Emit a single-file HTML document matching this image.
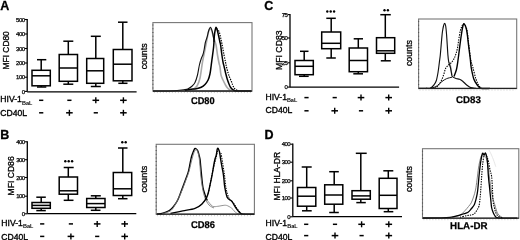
<!DOCTYPE html>
<html><head><meta charset="utf-8"><style>
html,body{margin:0;padding:0;background:#fff;}
svg{display:block;font-family:"Liberation Sans", sans-serif;will-change:transform;}
</style></head><body>
<svg width="520" height="240" viewBox="0 0 520 240">
<rect width="520" height="240" fill="#fff"/>
<text x="0.2" y="9.7" font-size="12.5" font-weight="bold" text-anchor="start" fill="#000" stroke="#000" stroke-width="0.3" >A</text>
<line x1="27.2" y1="18.9" x2="27.2" y2="91.8" stroke="#000" stroke-width="1.3" />
<line x1="24.7" y1="19.5" x2="27.2" y2="19.5" stroke="#000" stroke-width="1.1" />
<text x="24.599999999999998" y="21.6" font-size="6.0" font-weight="normal" text-anchor="end" fill="#000" stroke="#000" stroke-width="0.25" letter-spacing="-0.5">500</text>
<line x1="24.7" y1="34" x2="27.2" y2="34" stroke="#000" stroke-width="1.1" />
<text x="24.599999999999998" y="36.1" font-size="6.0" font-weight="normal" text-anchor="end" fill="#000" stroke="#000" stroke-width="0.25" letter-spacing="-0.5">400</text>
<line x1="24.7" y1="48.5" x2="27.2" y2="48.5" stroke="#000" stroke-width="1.1" />
<text x="24.599999999999998" y="50.6" font-size="6.0" font-weight="normal" text-anchor="end" fill="#000" stroke="#000" stroke-width="0.25" letter-spacing="-0.5">300</text>
<line x1="24.7" y1="63" x2="27.2" y2="63" stroke="#000" stroke-width="1.1" />
<text x="24.599999999999998" y="65.1" font-size="6.0" font-weight="normal" text-anchor="end" fill="#000" stroke="#000" stroke-width="0.25" letter-spacing="-0.5">200</text>
<line x1="24.7" y1="77.2" x2="27.2" y2="77.2" stroke="#000" stroke-width="1.1" />
<text x="24.599999999999998" y="79.3" font-size="6.0" font-weight="normal" text-anchor="end" fill="#000" stroke="#000" stroke-width="0.25" letter-spacing="-0.5">100</text>
<line x1="24.7" y1="91.4" x2="27.2" y2="91.4" stroke="#000" stroke-width="1.1" />
<text x="24.599999999999998" y="93.5" font-size="6.0" font-weight="normal" text-anchor="end" fill="#000" stroke="#000" stroke-width="0.25" letter-spacing="-0.5">0</text>
<line x1="27.2" y1="91.8" x2="136.6" y2="91.8" stroke="#000" stroke-width="1.3" />
<text transform="translate(8.9,50.3) rotate(-90)" font-size="8.4" font-weight="normal" text-anchor="middle" fill="#000" stroke="#000" stroke-width="0.3">MFI CD80</text>
<line x1="41.2" y1="59.7" x2="41.2" y2="70.3" stroke="#000" stroke-width="1.5" />
<line x1="37" y1="59.7" x2="46.3" y2="59.7" stroke="#000" stroke-width="1.5" />
<line x1="41.2" y1="85.8" x2="41.2" y2="87.0" stroke="#000" stroke-width="1.5" />
<line x1="37" y1="87.0" x2="46.3" y2="87.0" stroke="#000" stroke-width="1.5" />
<rect x="32" y="70.3" width="18.299999999999997" height="15.5" fill="none" stroke="#000" stroke-width="1.5"/>
<line x1="32" y1="75.8" x2="50.3" y2="75.8" stroke="#000" stroke-width="1.5" />
<line x1="68.3" y1="41.2" x2="68.3" y2="54.5" stroke="#000" stroke-width="1.5" />
<line x1="63.3" y1="41.2" x2="73.3" y2="41.2" stroke="#000" stroke-width="1.5" />
<line x1="68.3" y1="81.3" x2="68.3" y2="84.2" stroke="#000" stroke-width="1.5" />
<line x1="63.3" y1="84.2" x2="73.3" y2="84.2" stroke="#000" stroke-width="1.5" />
<rect x="59.2" y="54.5" width="18.299999999999997" height="26.799999999999997" fill="none" stroke="#000" stroke-width="1.5"/>
<line x1="59.2" y1="68" x2="77.5" y2="68" stroke="#000" stroke-width="1.5" />
<line x1="95.8" y1="36.3" x2="95.8" y2="58.5" stroke="#000" stroke-width="1.5" />
<line x1="90.8" y1="36.3" x2="100.8" y2="36.3" stroke="#000" stroke-width="1.5" />
<line x1="95.8" y1="83.3" x2="95.8" y2="86.5" stroke="#000" stroke-width="1.5" />
<line x1="90.8" y1="86.5" x2="100.8" y2="86.5" stroke="#000" stroke-width="1.5" />
<rect x="86.7" y="58.5" width="17.0" height="24.799999999999997" fill="none" stroke="#000" stroke-width="1.5"/>
<line x1="86.7" y1="70.8" x2="103.7" y2="70.8" stroke="#000" stroke-width="1.5" />
<line x1="122.8" y1="22.2" x2="122.8" y2="49.5" stroke="#000" stroke-width="1.5" />
<line x1="118" y1="22.2" x2="127.5" y2="22.2" stroke="#000" stroke-width="1.5" />
<line x1="122.8" y1="80.8" x2="122.8" y2="83.3" stroke="#000" stroke-width="1.5" />
<line x1="118.3" y1="83.3" x2="127.5" y2="83.3" stroke="#000" stroke-width="1.5" />
<rect x="113.3" y="49.5" width="18.700000000000003" height="31.299999999999997" fill="none" stroke="#000" stroke-width="1.5"/>
<line x1="113.3" y1="64.2" x2="132" y2="64.2" stroke="#000" stroke-width="1.5" />
<text x="0.3" y="101.8" font-size="8.6" font-weight="normal" text-anchor="start" fill="#000" stroke="#000" stroke-width="0.35" >HIV-1</text>
<text x="22.0" y="104.6" font-size="5.5" font-weight="bold" text-anchor="start" fill="#000"  >BaL</text>
<text x="0.3" y="116.0" font-size="8.6" font-weight="normal" text-anchor="start" fill="#000" stroke="#000" stroke-width="0.35" >CD40L</text>
<line x1="39.1" y1="100.3" x2="43.300000000000004" y2="100.3" stroke="#000" stroke-width="1.5" />
<line x1="67.30000000000001" y1="100.3" x2="71.5" y2="100.3" stroke="#000" stroke-width="1.5" />
<line x1="92.5" y1="100.3" x2="99.1" y2="100.3" stroke="#000" stroke-width="1.5" />
<line x1="95.8" y1="97.3" x2="95.8" y2="103.3" stroke="#000" stroke-width="1.4" />
<line x1="120.10000000000001" y1="100.3" x2="126.7" y2="100.3" stroke="#000" stroke-width="1.5" />
<line x1="123.4" y1="97.3" x2="123.4" y2="103.3" stroke="#000" stroke-width="1.4" />
<line x1="39.1" y1="112.8" x2="43.300000000000004" y2="112.8" stroke="#000" stroke-width="1.5" />
<line x1="66.10000000000001" y1="112.8" x2="72.7" y2="112.8" stroke="#000" stroke-width="1.5" />
<line x1="69.4" y1="109.8" x2="69.4" y2="115.8" stroke="#000" stroke-width="1.4" />
<line x1="93.7" y1="112.8" x2="97.89999999999999" y2="112.8" stroke="#000" stroke-width="1.5" />
<line x1="120.10000000000001" y1="112.8" x2="126.7" y2="112.8" stroke="#000" stroke-width="1.5" />
<line x1="123.4" y1="109.8" x2="123.4" y2="115.8" stroke="#000" stroke-width="1.4" />
<text x="0.3" y="138.8" font-size="12.5" font-weight="bold" text-anchor="start" fill="#000" stroke="#000" stroke-width="0.3" >B</text>
<line x1="27.3" y1="141.20000000000002" x2="27.3" y2="213.6" stroke="#000" stroke-width="1.3" />
<line x1="24.8" y1="141.8" x2="27.3" y2="141.8" stroke="#000" stroke-width="1.1" />
<text x="24.7" y="143.9" font-size="6.0" font-weight="normal" text-anchor="end" fill="#000" stroke="#000" stroke-width="0.25" letter-spacing="-0.5">400</text>
<line x1="24.8" y1="159.7" x2="27.3" y2="159.7" stroke="#000" stroke-width="1.1" />
<text x="24.7" y="161.79999999999998" font-size="6.0" font-weight="normal" text-anchor="end" fill="#000" stroke="#000" stroke-width="0.25" letter-spacing="-0.5">300</text>
<line x1="24.8" y1="177.5" x2="27.3" y2="177.5" stroke="#000" stroke-width="1.1" />
<text x="24.7" y="179.6" font-size="6.0" font-weight="normal" text-anchor="end" fill="#000" stroke="#000" stroke-width="0.25" letter-spacing="-0.5">200</text>
<line x1="24.8" y1="196.2" x2="27.3" y2="196.2" stroke="#000" stroke-width="1.1" />
<text x="24.7" y="198.29999999999998" font-size="6.0" font-weight="normal" text-anchor="end" fill="#000" stroke="#000" stroke-width="0.25" letter-spacing="-0.5">100</text>
<line x1="24.8" y1="213.8" x2="27.3" y2="213.8" stroke="#000" stroke-width="1.1" />
<text x="24.7" y="215.9" font-size="6.0" font-weight="normal" text-anchor="end" fill="#000" stroke="#000" stroke-width="0.25" letter-spacing="-0.5">0</text>
<line x1="27.3" y1="213.6" x2="136.3" y2="213.6" stroke="#000" stroke-width="1.3" />
<text transform="translate(13.9,175.9) rotate(-90)" font-size="8.6" font-weight="normal" text-anchor="middle" fill="#000" stroke="#000" stroke-width="0.3">MFI CD86</text>
<line x1="41.2" y1="197.2" x2="41.2" y2="202.5" stroke="#000" stroke-width="1.5" />
<line x1="36.3" y1="197.2" x2="45.8" y2="197.2" stroke="#000" stroke-width="1.5" />
<line x1="41.2" y1="208.3" x2="41.2" y2="210.6" stroke="#000" stroke-width="1.5" />
<line x1="36.3" y1="210.6" x2="45.8" y2="210.6" stroke="#000" stroke-width="1.5" />
<rect x="32" y="202.5" width="18.299999999999997" height="5.800000000000011" fill="none" stroke="#000" stroke-width="1.5"/>
<line x1="32" y1="205.4" x2="50.3" y2="205.4" stroke="#000" stroke-width="1.5" />
<line x1="68.3" y1="167.5" x2="68.3" y2="177" stroke="#000" stroke-width="1.5" />
<line x1="63.7" y1="167.5" x2="73.7" y2="167.5" stroke="#000" stroke-width="1.5" />
<line x1="68.3" y1="194.2" x2="68.3" y2="200.3" stroke="#000" stroke-width="1.5" />
<line x1="63.7" y1="200.3" x2="73.5" y2="200.3" stroke="#000" stroke-width="1.5" />
<rect x="59.2" y="177" width="18.299999999999997" height="17.19999999999999" fill="none" stroke="#000" stroke-width="1.5"/>
<line x1="59.2" y1="190.8" x2="77.5" y2="190.8" stroke="#000" stroke-width="1.5" />
<line x1="95.8" y1="195.8" x2="95.8" y2="198.5" stroke="#000" stroke-width="1.5" />
<line x1="90.8" y1="195.8" x2="100.8" y2="195.8" stroke="#000" stroke-width="1.5" />
<line x1="95.8" y1="207.5" x2="95.8" y2="210.3" stroke="#000" stroke-width="1.5" />
<line x1="90.8" y1="210.3" x2="100.5" y2="210.3" stroke="#000" stroke-width="1.5" />
<rect x="86.7" y="198.5" width="18.299999999999997" height="9.0" fill="none" stroke="#000" stroke-width="1.5"/>
<line x1="86.7" y1="203.6" x2="105" y2="203.6" stroke="#000" stroke-width="1.5" />
<line x1="122.8" y1="148" x2="122.8" y2="172.5" stroke="#000" stroke-width="1.5" />
<line x1="118" y1="148" x2="127.5" y2="148" stroke="#000" stroke-width="1.5" />
<line x1="122.8" y1="195.5" x2="122.8" y2="198.7" stroke="#000" stroke-width="1.5" />
<line x1="118" y1="198.7" x2="127.5" y2="198.7" stroke="#000" stroke-width="1.5" />
<rect x="113.3" y="172.5" width="18.39999999999999" height="23.0" fill="none" stroke="#000" stroke-width="1.5"/>
<line x1="113.3" y1="188.8" x2="131.7" y2="188.8" stroke="#000" stroke-width="1.5" />
<circle cx="65.30" cy="161.3" r="1.2" fill="#000"/>
<circle cx="68.70" cy="161.3" r="1.2" fill="#000"/>
<circle cx="72.10" cy="161.3" r="1.2" fill="#000"/>
<circle cx="122.30" cy="142.3" r="1.2" fill="#000"/>
<circle cx="125.70" cy="142.3" r="1.2" fill="#000"/>
<text x="1.3" y="225.9" font-size="8.6" font-weight="normal" text-anchor="start" fill="#000" stroke="#000" stroke-width="0.35" >HIV-1</text>
<text x="23.0" y="227.7" font-size="5.5" font-weight="bold" text-anchor="start" fill="#000"  >BaL</text>
<text x="1.3" y="239.6" font-size="8.6" font-weight="normal" text-anchor="start" fill="#000" stroke="#000" stroke-width="0.35" >CD40L</text>
<line x1="40.1" y1="223.9" x2="44.300000000000004" y2="223.9" stroke="#000" stroke-width="1.5" />
<line x1="68.80000000000001" y1="223.9" x2="73.0" y2="223.9" stroke="#000" stroke-width="1.5" />
<line x1="93.9" y1="223.9" x2="100.5" y2="223.9" stroke="#000" stroke-width="1.5" />
<line x1="97.2" y1="220.9" x2="97.2" y2="226.9" stroke="#000" stroke-width="1.4" />
<line x1="121.4" y1="223.9" x2="128.0" y2="223.9" stroke="#000" stroke-width="1.5" />
<line x1="124.7" y1="220.9" x2="124.7" y2="226.9" stroke="#000" stroke-width="1.4" />
<line x1="40.1" y1="236.4" x2="44.300000000000004" y2="236.4" stroke="#000" stroke-width="1.5" />
<line x1="67.60000000000001" y1="236.4" x2="74.2" y2="236.4" stroke="#000" stroke-width="1.5" />
<line x1="70.9" y1="233.4" x2="70.9" y2="239.4" stroke="#000" stroke-width="1.4" />
<line x1="95.10000000000001" y1="236.4" x2="99.3" y2="236.4" stroke="#000" stroke-width="1.5" />
<line x1="121.4" y1="236.4" x2="128.0" y2="236.4" stroke="#000" stroke-width="1.5" />
<line x1="124.7" y1="233.4" x2="124.7" y2="239.4" stroke="#000" stroke-width="1.4" />
<text x="264.2" y="9.9" font-size="12.5" font-weight="bold" text-anchor="start" fill="#000" stroke="#000" stroke-width="0.3" >C</text>
<line x1="290" y1="14.0" x2="290" y2="87.2" stroke="#000" stroke-width="1.3" />
<line x1="287.5" y1="14.6" x2="290" y2="14.6" stroke="#000" stroke-width="1.1" />
<text x="287.4" y="16.7" font-size="6.0" font-weight="normal" text-anchor="end" fill="#000" stroke="#000" stroke-width="0.25" letter-spacing="-0.5">75</text>
<line x1="287.5" y1="38" x2="290" y2="38" stroke="#000" stroke-width="1.1" />
<text x="287.4" y="40.1" font-size="6.0" font-weight="normal" text-anchor="end" fill="#000" stroke="#000" stroke-width="0.25" letter-spacing="-0.5">50</text>
<line x1="287.5" y1="62.8" x2="290" y2="62.8" stroke="#000" stroke-width="1.1" />
<text x="287.4" y="64.89999999999999" font-size="6.0" font-weight="normal" text-anchor="end" fill="#000" stroke="#000" stroke-width="0.25" letter-spacing="-0.5">25</text>
<line x1="287.5" y1="87.1" x2="290" y2="87.1" stroke="#000" stroke-width="1.1" />
<text x="287.4" y="89.19999999999999" font-size="6.0" font-weight="normal" text-anchor="end" fill="#000" stroke="#000" stroke-width="0.25" letter-spacing="-0.5">0</text>
<line x1="290" y1="87.2" x2="399.1" y2="87.2" stroke="#000" stroke-width="1.3" />
<text transform="translate(281.5,50.2) rotate(-90)" font-size="8.7" font-weight="normal" text-anchor="middle" fill="#000" stroke="#000" stroke-width="0.3">MFI CD83</text>
<line x1="304.2" y1="51.3" x2="304.2" y2="60.5" stroke="#000" stroke-width="1.5" />
<line x1="300" y1="51.3" x2="308.5" y2="51.3" stroke="#000" stroke-width="1.5" />
<line x1="304.2" y1="74.7" x2="304.2" y2="76.3" stroke="#000" stroke-width="1.5" />
<line x1="299" y1="76.3" x2="308.7" y2="76.3" stroke="#000" stroke-width="1.5" />
<rect x="295" y="60.5" width="18.30000000000001" height="14.200000000000003" fill="none" stroke="#000" stroke-width="1.5"/>
<line x1="295" y1="66.3" x2="313.3" y2="66.3" stroke="#000" stroke-width="1.5" />
<line x1="331.2" y1="18.3" x2="331.2" y2="32" stroke="#000" stroke-width="1.5" />
<line x1="326.3" y1="18.3" x2="335.8" y2="18.3" stroke="#000" stroke-width="1.5" />
<line x1="331.2" y1="48.7" x2="331.2" y2="58" stroke="#000" stroke-width="1.5" />
<line x1="326.3" y1="58" x2="335.8" y2="58" stroke="#000" stroke-width="1.5" />
<rect x="321.7" y="32" width="19.0" height="16.700000000000003" fill="none" stroke="#000" stroke-width="1.5"/>
<line x1="321.7" y1="43.3" x2="340.7" y2="43.3" stroke="#000" stroke-width="1.5" />
<line x1="358.3" y1="38.8" x2="358.3" y2="48" stroke="#000" stroke-width="1.5" />
<line x1="353.7" y1="38.8" x2="363" y2="38.8" stroke="#000" stroke-width="1.5" />
<line x1="358.3" y1="71.7" x2="358.3" y2="73.8" stroke="#000" stroke-width="1.5" />
<line x1="353.3" y1="73.8" x2="363" y2="73.8" stroke="#000" stroke-width="1.5" />
<rect x="349.2" y="48" width="18.30000000000001" height="23.700000000000003" fill="none" stroke="#000" stroke-width="1.5"/>
<line x1="349.2" y1="60.5" x2="367.5" y2="60.5" stroke="#000" stroke-width="1.5" />
<line x1="385.3" y1="14.7" x2="385.3" y2="37.7" stroke="#000" stroke-width="1.5" />
<line x1="380.3" y1="14.7" x2="390.8" y2="14.7" stroke="#000" stroke-width="1.5" />
<line x1="385.3" y1="53.3" x2="385.3" y2="60.8" stroke="#000" stroke-width="1.5" />
<line x1="380.8" y1="60.8" x2="390.8" y2="60.8" stroke="#000" stroke-width="1.5" />
<rect x="376.5" y="37.7" width="18.19999999999999" height="15.599999999999994" fill="none" stroke="#000" stroke-width="1.5"/>
<line x1="376.5" y1="50.8" x2="394.7" y2="50.8" stroke="#000" stroke-width="1.5" />
<circle cx="327.30" cy="11.5" r="1.2" fill="#000"/>
<circle cx="330.70" cy="11.5" r="1.2" fill="#000"/>
<circle cx="334.10" cy="11.5" r="1.2" fill="#000"/>
<circle cx="384.50" cy="10.3" r="1.2" fill="#000"/>
<circle cx="387.90" cy="10.3" r="1.2" fill="#000"/>
<text x="265.5" y="99.7" font-size="8.6" font-weight="normal" text-anchor="start" fill="#000" stroke="#000" stroke-width="0.35" >HIV-1</text>
<text x="286.9" y="101.8" font-size="5.5" font-weight="bold" text-anchor="start" fill="#000"  >BaL</text>
<text x="265.5" y="113.3" font-size="8.6" font-weight="normal" text-anchor="start" fill="#000" stroke="#000" stroke-width="0.35" >CD40L</text>
<line x1="304.4" y1="97.6" x2="308.6" y2="97.6" stroke="#000" stroke-width="1.5" />
<line x1="332.59999999999997" y1="97.6" x2="336.8" y2="97.6" stroke="#000" stroke-width="1.5" />
<line x1="357.7" y1="97.6" x2="364.3" y2="97.6" stroke="#000" stroke-width="1.5" />
<line x1="361" y1="94.6" x2="361" y2="100.6" stroke="#000" stroke-width="1.4" />
<line x1="385.4" y1="97.6" x2="392.0" y2="97.6" stroke="#000" stroke-width="1.5" />
<line x1="388.7" y1="94.6" x2="388.7" y2="100.6" stroke="#000" stroke-width="1.4" />
<line x1="304.4" y1="110.8" x2="308.6" y2="110.8" stroke="#000" stroke-width="1.5" />
<line x1="331.4" y1="110.8" x2="338.0" y2="110.8" stroke="#000" stroke-width="1.5" />
<line x1="334.7" y1="107.8" x2="334.7" y2="113.8" stroke="#000" stroke-width="1.4" />
<line x1="358.9" y1="110.8" x2="363.1" y2="110.8" stroke="#000" stroke-width="1.5" />
<line x1="385.4" y1="110.8" x2="392.0" y2="110.8" stroke="#000" stroke-width="1.5" />
<line x1="388.7" y1="107.8" x2="388.7" y2="113.8" stroke="#000" stroke-width="1.4" />
<text x="264.4" y="138.8" font-size="12.5" font-weight="bold" text-anchor="start" fill="#000" stroke="#000" stroke-width="0.3" >D</text>
<line x1="292.8" y1="143.6" x2="292.8" y2="216.7" stroke="#000" stroke-width="1.3" />
<line x1="290.3" y1="144.2" x2="292.8" y2="144.2" stroke="#000" stroke-width="1.1" />
<text x="290.2" y="146.29999999999998" font-size="6.0" font-weight="normal" text-anchor="end" fill="#000" stroke="#000" stroke-width="0.25" letter-spacing="-0.5">400</text>
<line x1="290.3" y1="162.2" x2="292.8" y2="162.2" stroke="#000" stroke-width="1.1" />
<text x="290.2" y="164.29999999999998" font-size="6.0" font-weight="normal" text-anchor="end" fill="#000" stroke="#000" stroke-width="0.25" letter-spacing="-0.5">300</text>
<line x1="290.3" y1="180.8" x2="292.8" y2="180.8" stroke="#000" stroke-width="1.1" />
<text x="290.2" y="182.9" font-size="6.0" font-weight="normal" text-anchor="end" fill="#000" stroke="#000" stroke-width="0.25" letter-spacing="-0.5">200</text>
<line x1="290.3" y1="198" x2="292.8" y2="198" stroke="#000" stroke-width="1.1" />
<text x="290.2" y="200.1" font-size="6.0" font-weight="normal" text-anchor="end" fill="#000" stroke="#000" stroke-width="0.25" letter-spacing="-0.5">100</text>
<line x1="290.3" y1="216.8" x2="292.8" y2="216.8" stroke="#000" stroke-width="1.1" />
<text x="290.2" y="218.9" font-size="6.0" font-weight="normal" text-anchor="end" fill="#000" stroke="#000" stroke-width="0.25" letter-spacing="-0.5">0</text>
<line x1="292.8" y1="216.7" x2="402" y2="216.7" stroke="#000" stroke-width="1.3" />
<text transform="translate(280.1,176.3) rotate(-90)" font-size="8.5" font-weight="normal" text-anchor="middle" fill="#000" stroke="#000" stroke-width="0.3">MFI HLA-DR</text>
<line x1="306.7" y1="167" x2="306.7" y2="187.5" stroke="#000" stroke-width="1.5" />
<line x1="301.7" y1="167" x2="311.7" y2="167" stroke="#000" stroke-width="1.5" />
<line x1="306.7" y1="206.2" x2="306.7" y2="210.8" stroke="#000" stroke-width="1.5" />
<line x1="302" y1="210.8" x2="311.7" y2="210.8" stroke="#000" stroke-width="1.5" />
<rect x="297.5" y="187.5" width="18.30000000000001" height="18.69999999999999" fill="none" stroke="#000" stroke-width="1.5"/>
<line x1="297.5" y1="196.2" x2="315.8" y2="196.2" stroke="#000" stroke-width="1.5" />
<line x1="334.2" y1="171.7" x2="334.2" y2="184.8" stroke="#000" stroke-width="1.5" />
<line x1="329.2" y1="171.7" x2="338.8" y2="171.7" stroke="#000" stroke-width="1.5" />
<line x1="334.2" y1="204.2" x2="334.2" y2="212.5" stroke="#000" stroke-width="1.5" />
<line x1="329.2" y1="212.5" x2="338.8" y2="212.5" stroke="#000" stroke-width="1.5" />
<rect x="324.7" y="184.8" width="18.100000000000023" height="19.399999999999977" fill="none" stroke="#000" stroke-width="1.5"/>
<line x1="324.7" y1="195" x2="342.8" y2="195" stroke="#000" stroke-width="1.5" />
<line x1="360.8" y1="153.3" x2="360.8" y2="190.7" stroke="#000" stroke-width="1.5" />
<line x1="355.8" y1="153.3" x2="366.7" y2="153.3" stroke="#000" stroke-width="1.5" />
<line x1="360.8" y1="199.2" x2="360.8" y2="202.6" stroke="#000" stroke-width="1.5" />
<line x1="356.3" y1="202.6" x2="365.8" y2="202.6" stroke="#000" stroke-width="1.5" />
<rect x="352" y="190.7" width="18.30000000000001" height="8.5" fill="none" stroke="#000" stroke-width="1.5"/>
<line x1="352" y1="195.9" x2="370.3" y2="195.9" stroke="#000" stroke-width="1.5" />
<line x1="388.3" y1="170.8" x2="388.3" y2="178.3" stroke="#000" stroke-width="1.5" />
<line x1="383.3" y1="170.8" x2="393.3" y2="170.8" stroke="#000" stroke-width="1.5" />
<line x1="388.3" y1="208.5" x2="388.3" y2="211.7" stroke="#000" stroke-width="1.5" />
<line x1="383.7" y1="211.7" x2="393.3" y2="211.7" stroke="#000" stroke-width="1.5" />
<rect x="379.2" y="178.3" width="17.80000000000001" height="30.19999999999999" fill="none" stroke="#000" stroke-width="1.5"/>
<line x1="379.2" y1="195.3" x2="397" y2="195.3" stroke="#000" stroke-width="1.5" />
<text x="265.6" y="225.6" font-size="8.6" font-weight="normal" text-anchor="start" fill="#000" stroke="#000" stroke-width="0.35" >HIV-1</text>
<text x="287.2" y="227.6" font-size="5.5" font-weight="bold" text-anchor="start" fill="#000"  >BaL</text>
<text x="265.6" y="239.6" font-size="8.6" font-weight="normal" text-anchor="start" fill="#000" stroke="#000" stroke-width="0.35" >CD40L</text>
<line x1="304.09999999999997" y1="224.3" x2="308.3" y2="224.3" stroke="#000" stroke-width="1.5" />
<line x1="332.9" y1="224.3" x2="337.1" y2="224.3" stroke="#000" stroke-width="1.5" />
<line x1="358.3" y1="224.3" x2="364.90000000000003" y2="224.3" stroke="#000" stroke-width="1.5" />
<line x1="361.6" y1="221.3" x2="361.6" y2="227.3" stroke="#000" stroke-width="1.4" />
<line x1="385.5" y1="224.3" x2="392.1" y2="224.3" stroke="#000" stroke-width="1.5" />
<line x1="388.8" y1="221.3" x2="388.8" y2="227.3" stroke="#000" stroke-width="1.4" />
<line x1="304.09999999999997" y1="235.6" x2="308.3" y2="235.6" stroke="#000" stroke-width="1.5" />
<line x1="331.7" y1="235.6" x2="338.3" y2="235.6" stroke="#000" stroke-width="1.5" />
<line x1="335" y1="232.6" x2="335" y2="238.6" stroke="#000" stroke-width="1.4" />
<line x1="359.5" y1="235.6" x2="363.70000000000005" y2="235.6" stroke="#000" stroke-width="1.5" />
<line x1="385.5" y1="235.6" x2="392.1" y2="235.6" stroke="#000" stroke-width="1.5" />
<line x1="388.8" y1="232.6" x2="388.8" y2="238.6" stroke="#000" stroke-width="1.4" />
<rect x="152.9" y="22.6" width="99.1" height="68.6" fill="none" stroke="#777" stroke-width="1.1"/>
<line x1="152.9" y1="24.6" x2="152.9" y2="90.2" stroke="#555" stroke-width="1.1" stroke-dasharray="1,2.7"/>
<line x1="153.9" y1="92.60000000000001" x2="251.0" y2="92.60000000000001" stroke="#bbb" stroke-width="1.0" stroke-dasharray="0.8,2.2"/>
<text transform="translate(146.6,56.4) rotate(-90)" font-size="8.8" font-weight="normal" text-anchor="middle" fill="#000" stroke="#000" stroke-width="0.3">counts</text>
<text x="202.85" y="104.2" font-size="9.8" font-weight="bold" text-anchor="middle" fill="#000" stroke="#000" stroke-width="0.25" textLength="23.6" lengthAdjust="spacingAndGlyphs" text-rendering="geometricPrecision">CD80</text>
<rect x="156.2" y="144.3" width="98.20000000000002" height="70.0" fill="none" stroke="#777" stroke-width="1.1"/>
<line x1="156.2" y1="146.3" x2="156.2" y2="213.3" stroke="#555" stroke-width="1.1" stroke-dasharray="1,2.7"/>
<line x1="157.2" y1="215.70000000000002" x2="253.4" y2="215.70000000000002" stroke="#bbb" stroke-width="1.0" stroke-dasharray="0.8,2.2"/>
<text transform="translate(147.1,179.1) rotate(-90)" font-size="9.1" font-weight="normal" text-anchor="middle" fill="#000" stroke="#000" stroke-width="0.3">counts</text>
<text x="203.0" y="228.3" font-size="9.8" font-weight="bold" text-anchor="middle" fill="#000" stroke="#000" stroke-width="0.25" textLength="24.0" lengthAdjust="spacingAndGlyphs" text-rendering="geometricPrecision">CD86</text>
<rect x="418.6" y="19.0" width="98.10000000000002" height="69.6" fill="none" stroke="#777" stroke-width="1.1"/>
<line x1="418.6" y1="21.0" x2="418.6" y2="87.6" stroke="#555" stroke-width="1.1" stroke-dasharray="1,2.7"/>
<line x1="419.6" y1="90.0" x2="515.7" y2="90.0" stroke="#bbb" stroke-width="1.0" stroke-dasharray="0.8,2.2"/>
<text transform="translate(412.2,53.1) rotate(-90)" font-size="8.8" font-weight="normal" text-anchor="middle" fill="#000" stroke="#000" stroke-width="0.3">counts</text>
<text x="468.5" y="103.1" font-size="9.8" font-weight="bold" text-anchor="middle" fill="#000" stroke="#000" stroke-width="0.25" textLength="24.8" lengthAdjust="spacingAndGlyphs" text-rendering="geometricPrecision">CD83</text>
<rect x="422.5" y="148.7" width="96.29999999999995" height="69.60000000000002" fill="none" stroke="#777" stroke-width="1.1"/>
<line x1="422.5" y1="150.7" x2="422.5" y2="217.3" stroke="#555" stroke-width="1.1" stroke-dasharray="1,2.7"/>
<line x1="423.5" y1="219.70000000000002" x2="517.8" y2="219.70000000000002" stroke="#bbb" stroke-width="1.0" stroke-dasharray="0.8,2.2"/>
<text transform="translate(412.2,179.1) rotate(-90)" font-size="8.8" font-weight="normal" text-anchor="middle" fill="#000" stroke="#000" stroke-width="0.3">counts</text>
<text x="468.8" y="229.1" font-size="9.8" font-weight="bold" text-anchor="middle" fill="#000" stroke="#000" stroke-width="0.25" textLength="37.4" lengthAdjust="spacingAndGlyphs" text-rendering="geometricPrecision">HLA-DR</text>
<path d="M192.00,90.30 C192.83,89.58 195.67,88.05 197.00,86.00 C198.33,83.95 199.08,82.00 200.00,78.00 C200.92,74.00 201.75,66.33 202.50,62.00 C203.25,57.67 203.83,55.33 204.50,52.00 C205.17,48.67 205.88,45.17 206.50,42.00 C207.12,38.83 207.67,35.25 208.20,33.00 C208.73,30.75 209.15,29.00 209.70,28.50 C210.25,28.00 210.87,28.58 211.50,30.00 C212.13,31.42 212.75,34.50 213.50,37.00 C214.25,39.50 215.33,42.00 216.00,45.00 C216.67,48.00 217.00,52.00 217.50,55.00 C218.00,58.00 218.58,61.00 219.00,63.00 C219.42,65.00 219.67,65.00 220.00,67.00 C220.33,69.00 220.50,72.83 221.00,75.00 C221.50,77.17 222.25,78.33 223.00,80.00 C223.75,81.67 224.75,83.67 225.50,85.00 C226.25,86.33 226.58,87.03 227.50,88.00 C228.42,88.97 230.42,90.33 231.00,90.80" fill="none" stroke="#aaa" stroke-width="1.6" stroke-linejoin="round"  opacity="1"/>
<path d="M153.00,91.00 C156.67,90.95 169.67,90.93 175.00,90.70 C180.33,90.47 182.82,89.92 185.00,89.60 C187.18,89.27 186.95,89.31 188.10,88.75 C189.25,88.19 190.75,87.29 191.90,86.25 C193.05,85.21 194.07,84.38 195.00,82.50 C195.93,80.62 196.77,77.92 197.50,75.00 C198.23,72.08 198.77,67.75 199.40,65.00 C200.03,62.25 200.72,60.21 201.30,58.50 C201.88,56.79 202.43,56.21 202.90,54.75 C203.37,53.29 203.68,51.83 204.10,49.75 C204.52,47.67 204.88,44.44 205.40,42.25 C205.93,40.06 206.72,38.48 207.25,36.60 C207.78,34.73 208.06,32.57 208.60,31.00 C209.14,29.43 209.87,27.03 210.50,27.20 C211.13,27.37 211.88,30.16 212.40,32.00 C212.92,33.84 213.33,36.58 213.60,38.25 C213.87,39.92 213.93,41.38 214.00,42.00" fill="none" stroke="#111" stroke-width="1.1" stroke-linejoin="round"  opacity="1"/>
<path d="M185.00,90.60 C185.83,90.40 188.12,89.71 190.00,89.40 C191.88,89.09 194.38,89.11 196.25,88.75 C198.12,88.39 199.79,87.97 201.25,87.25 C202.71,86.53 203.86,85.61 205.00,84.40 C206.14,83.19 207.27,81.78 208.10,80.00 C208.93,78.22 209.47,76.25 210.00,73.75 C210.53,71.25 210.93,67.29 211.25,65.00 C211.57,62.71 211.51,63.00 211.90,60.00 C212.29,57.00 213.21,50.83 213.60,47.00 C213.99,43.17 214.02,39.67 214.25,37.00 C214.48,34.33 214.69,32.62 215.00,31.00 C215.31,29.38 215.70,27.34 216.10,27.30 C216.50,27.26 216.98,29.34 217.40,30.75 C217.82,32.16 218.18,33.88 218.60,35.75 C219.02,37.62 219.57,40.46 219.90,42.00 C220.23,43.54 220.27,42.83 220.60,45.00 C220.93,47.17 221.50,52.17 221.90,55.00 C222.30,57.83 222.62,60.00 223.00,62.00 C223.38,64.00 223.77,65.17 224.20,67.00 C224.63,68.83 225.10,71.00 225.60,73.00 C226.10,75.00 226.63,77.17 227.20,79.00 C227.77,80.83 228.45,82.63 229.00,84.00 C229.55,85.37 229.83,86.25 230.50,87.20 C231.17,88.15 231.92,89.08 233.00,89.70 C234.08,90.32 234.00,90.68 237.00,90.90 C240.00,91.12 248.67,90.98 251.00,91.00" fill="none" stroke="#000" stroke-width="1.5" stroke-linejoin="round"  opacity="1"/>
<path d="M216.80,28.50 C217.21,29.08 218.53,30.08 219.25,32.00 C219.97,33.92 220.54,37.50 221.10,40.00 C221.66,42.50 222.12,44.50 222.60,47.00 C223.08,49.50 223.52,52.50 224.00,55.00 C224.48,57.50 225.08,60.00 225.50,62.00 C225.92,64.00 226.07,65.17 226.50,67.00 C226.93,68.83 227.60,71.33 228.10,73.00 C228.60,74.67 228.98,75.67 229.50,77.00 C230.02,78.33 230.67,79.67 231.20,81.00 C231.73,82.33 232.27,83.97 232.70,85.00 C233.12,86.03 233.28,86.45 233.75,87.20 C234.22,87.95 234.71,88.85 235.50,89.50 C236.29,90.15 238.00,90.83 238.50,91.10" fill="none" stroke="#000" stroke-width="1.2" stroke-linejoin="round" stroke-dasharray="1.4,1.1" opacity="1"/>
<line x1="153" y1="91.0" x2="252" y2="91.0" stroke="#222" stroke-width="1.3" />
<path d="M157.00,214.00 C157.83,213.92 160.52,213.80 162.00,213.50 C163.48,213.20 164.62,212.73 165.90,212.20 C167.18,211.67 168.45,211.23 169.70,210.30 C170.95,209.37 172.15,208.15 173.40,206.60 C174.65,205.05 176.10,203.03 177.20,201.00 C178.30,198.97 179.07,196.75 180.00,194.40 C180.93,192.05 181.87,189.40 182.80,186.90 C183.73,184.40 184.68,181.90 185.60,179.40 C186.52,176.90 187.57,174.47 188.30,171.90 C189.03,169.33 189.51,166.36 190.00,164.00 C190.49,161.64 190.82,159.50 191.25,157.75 C191.68,156.00 192.11,154.86 192.60,153.50 C193.09,152.14 193.77,150.45 194.20,149.60 C194.63,148.75 194.65,148.29 195.20,148.40 C195.75,148.51 196.91,149.32 197.50,150.25 C198.09,151.18 198.33,152.54 198.75,154.00 C199.17,155.46 199.69,157.12 200.00,159.00 C200.31,160.88 200.38,162.96 200.60,165.25 C200.82,167.54 200.92,169.07 201.30,172.75 C201.68,176.43 202.20,183.43 202.90,187.30 C203.60,191.18 204.77,193.82 205.50,196.00 C206.23,198.18 207.00,199.67 207.30,200.40" fill="none" stroke="#000" stroke-width="1.4" stroke-linejoin="round"  opacity="1"/>
<path d="M207.30,200.40 C208.17,201.37 210.75,205.22 212.50,206.20 C214.25,207.18 216.22,206.40 217.80,206.30 C219.38,206.20 220.55,205.75 222.00,205.60 C223.45,205.45 224.87,204.95 226.50,205.40 C228.13,205.85 230.05,206.97 231.80,208.30 C233.55,209.63 234.80,212.45 237.00,213.40 C239.20,214.35 243.67,213.90 245.00,214.00" fill="none" stroke="#888" stroke-width="0.9" stroke-linejoin="round"  opacity="1"/>
<path d="M162.00,213.90 C163.50,213.33 168.67,212.32 171.00,210.50 C173.33,208.68 174.42,205.75 176.00,203.00 C177.58,200.25 179.25,196.75 180.50,194.00 C181.75,191.25 182.53,189.00 183.50,186.50 C184.47,184.00 185.38,181.50 186.30,179.00 C187.22,176.50 188.25,174.00 189.00,171.50 C189.75,169.00 190.25,166.25 190.80,164.00 C191.35,161.75 191.77,159.92 192.30,158.00 C192.83,156.08 193.35,153.92 194.00,152.50 C194.65,151.08 195.53,149.50 196.20,149.50 C196.87,149.50 197.50,151.08 198.00,152.50 C198.50,153.92 198.87,155.75 199.20,158.00 C199.53,160.25 199.73,163.00 200.00,166.00 C200.27,169.00 200.38,172.33 200.80,176.00 C201.22,179.67 201.80,184.33 202.50,188.00 C203.20,191.67 203.92,195.17 205.00,198.00 C206.08,200.83 207.50,203.33 209.00,205.00 C210.50,206.67 213.17,207.50 214.00,208.00" fill="none" stroke="#777" stroke-width="0.9" stroke-linejoin="round"  opacity="1"/>
<path d="M170.50,213.40 C172.55,212.98 178.72,211.75 182.80,210.90 C186.88,210.05 191.80,209.47 195.00,208.30 C198.20,207.13 199.95,205.95 202.00,203.90 C204.05,201.85 205.98,199.07 207.30,196.00 C208.62,192.93 209.20,188.50 209.90,185.50 C210.60,182.50 211.07,180.12 211.50,178.00 C211.93,175.88 212.12,174.88 212.50,172.75 C212.88,170.62 213.33,167.54 213.75,165.25 C214.17,162.96 214.58,160.67 215.00,159.00 C215.42,157.33 215.83,157.02 216.25,155.25 C216.67,153.48 216.97,149.03 217.50,148.40 C218.03,147.78 218.88,149.73 219.40,151.50 C219.92,153.27 220.18,156.50 220.60,159.00 C221.02,161.50 221.48,164.21 221.90,166.50 C222.32,168.79 222.78,170.83 223.10,172.75 C223.42,174.67 223.52,175.57 223.80,178.00 C224.08,180.43 224.20,184.00 224.80,187.30 C225.40,190.60 226.23,195.47 227.40,197.80 C228.57,200.13 230.33,199.55 231.80,201.30 C233.27,203.05 234.73,206.28 236.20,208.30 C237.67,210.32 239.13,212.43 240.60,213.40 C242.07,214.37 242.77,213.98 245.00,214.10 C247.23,214.22 252.50,214.10 254.00,214.10" fill="none" stroke="#000" stroke-width="1.4" stroke-linejoin="round"  opacity="1"/>
<path d="M200.00,206.00 C201.00,204.83 204.50,201.67 206.00,199.00 C207.50,196.33 208.17,193.17 209.00,190.00 C209.83,186.83 210.33,183.33 211.00,180.00 C211.67,176.67 212.25,173.33 213.00,170.00 C213.75,166.67 214.70,163.33 215.50,160.00 C216.30,156.67 217.42,151.67 217.80,150.00" fill="none" stroke="#000" stroke-width="1.0" stroke-linejoin="round" stroke-dasharray="1.4,1.1" opacity="1"/>
<path d="M221.00,153.00 C221.25,154.50 221.92,158.33 222.50,162.00 C223.08,165.67 223.92,170.67 224.50,175.00 C225.08,179.33 225.25,184.17 226.00,188.00 C226.75,191.83 227.75,195.50 229.00,198.00 C230.25,200.50 232.08,201.17 233.50,203.00 C234.92,204.83 236.17,207.22 237.50,209.00 C238.83,210.78 240.83,212.92 241.50,213.70" fill="none" stroke="#000" stroke-width="1.0" stroke-linejoin="round" stroke-dasharray="1.4,1.1" opacity="1"/>
<line x1="156.5" y1="214.1" x2="254.4" y2="214.1" stroke="#222" stroke-width="1.3" />
<path d="M449.30,62.00 C449.50,62.67 450.18,64.50 450.50,66.00 C450.82,67.50 450.95,69.50 451.20,71.00 C451.45,72.50 451.87,74.33 452.00,75.00" fill="none" stroke="#aaa" stroke-width="1.4" stroke-linejoin="round"  opacity="1"/>
<path d="M419.00,88.30 C420.17,88.28 424.07,88.25 426.00,88.20 C427.93,88.15 429.31,88.52 430.60,88.00 C431.89,87.48 432.81,86.31 433.75,85.10 C434.69,83.89 435.52,82.93 436.25,80.75 C436.98,78.57 437.58,75.12 438.10,72.00 C438.62,68.88 439.03,64.83 439.40,62.00 C439.77,59.17 439.93,58.67 440.30,55.00 C440.67,51.33 441.25,43.83 441.60,40.00 C441.95,36.17 442.08,34.33 442.40,32.00 C442.72,29.67 443.13,27.43 443.50,26.00 C443.87,24.57 444.23,23.40 444.60,23.40 C444.97,23.40 445.37,24.07 445.70,26.00 C446.03,27.93 446.23,30.17 446.60,35.00 C446.97,39.83 447.54,50.50 447.90,55.00 C448.26,59.50 448.35,60.00 448.75,62.00 C449.15,64.00 449.88,65.33 450.30,67.00 C450.73,68.67 450.97,70.42 451.30,72.00 C451.63,73.58 451.52,75.42 452.30,76.50 C453.08,77.58 454.80,78.05 456.00,78.50 C457.20,78.95 458.38,78.75 459.50,79.20 C460.62,79.65 461.50,80.23 462.70,81.20 C463.90,82.17 465.37,83.93 466.70,85.00 C468.03,86.07 469.15,87.05 470.70,87.60 C472.25,88.15 475.12,88.18 476.00,88.30" fill="none" stroke="#111" stroke-width="1.15" stroke-linejoin="round"  opacity="1"/>
<path d="M430.00,88.20 C431.00,87.92 434.00,87.62 436.00,86.50 C438.00,85.38 440.25,82.80 442.00,81.50 C443.75,80.20 444.83,79.42 446.50,78.70 C448.17,77.98 451.08,77.45 452.00,77.20" fill="none" stroke="#111" stroke-width="1.0" stroke-linejoin="round"  opacity="1"/>
<path d="M454.00,76.50 C454.40,75.37 455.78,72.07 456.40,69.70 C457.02,67.33 457.27,65.17 457.70,62.30 C458.13,59.43 458.52,56.22 459.00,52.50 C459.48,48.78 460.13,43.42 460.60,40.00 C461.07,36.58 461.43,34.25 461.80,32.00 C462.17,29.75 462.47,27.90 462.80,26.50 C463.13,25.10 463.40,23.77 463.80,23.60 C464.20,23.43 464.73,24.43 465.20,25.50 C465.67,26.57 466.20,28.08 466.60,30.00 C467.00,31.92 467.28,34.50 467.60,37.00 C467.92,39.50 468.20,42.50 468.50,45.00 C468.80,47.50 469.10,49.67 469.40,52.00 C469.70,54.33 470.00,56.42 470.30,59.00 C470.60,61.58 470.62,64.18 471.20,67.50 C471.78,70.82 472.78,75.98 473.80,78.90 C474.82,81.82 476.13,83.45 477.30,85.00 C478.47,86.55 478.68,87.63 480.80,88.20 C482.92,88.77 488.47,88.37 490.00,88.40" fill="none" stroke="#000" stroke-width="1.4" stroke-linejoin="round"  opacity="1"/>
<path d="M432.00,88.20 C432.50,88.15 433.98,88.31 435.00,87.90 C436.02,87.49 437.06,86.94 438.10,85.75 C439.14,84.56 440.31,82.62 441.25,80.75 C442.19,78.88 443.02,76.54 443.75,74.50 C444.48,72.46 444.81,70.08 445.60,68.50 C446.39,66.92 447.52,66.00 448.50,65.00 C449.48,64.00 450.58,63.54 451.50,62.50 C452.42,61.46 453.25,60.21 454.00,58.75 C454.75,57.29 455.40,55.62 456.00,53.75 C456.60,51.88 457.15,49.79 457.60,47.50 C458.05,45.21 458.25,42.75 458.70,40.00 C459.15,37.25 459.75,33.33 460.30,31.00 C460.85,28.67 461.47,27.17 462.00,26.00 C462.53,24.83 463.00,24.17 463.50,24.00 C464.00,23.83 464.50,24.25 465.00,25.00 C465.50,25.75 466.08,27.17 466.50,28.50 C466.92,29.83 467.20,30.92 467.50,33.00 C467.80,35.08 467.97,38.17 468.30,41.00 C468.63,43.83 469.08,46.83 469.50,50.00 C469.92,53.17 470.23,57.08 470.80,60.00 C471.37,62.92 472.05,64.35 472.90,67.50 C473.75,70.65 474.97,75.98 475.90,78.90 C476.83,81.82 477.65,83.45 478.50,85.00 C479.35,86.55 480.58,87.67 481.00,88.20" fill="none" stroke="#000" stroke-width="1.1" stroke-linejoin="round" stroke-dasharray="1.4,1.1" opacity="1"/>
<line x1="418.6" y1="88.4" x2="516.7" y2="88.4" stroke="#222" stroke-width="1.3" />
<path d="M452.00,217.20 C453.33,216.87 457.83,216.30 460.00,215.20 C462.17,214.10 463.58,212.05 465.00,210.60 C466.42,209.15 467.46,207.80 468.50,206.50 C469.54,205.20 470.42,204.38 471.25,202.80 C472.08,201.22 472.79,199.13 473.50,197.00 C474.21,194.87 474.92,192.83 475.50,190.00 C476.08,187.17 476.50,183.67 477.00,180.00 C477.50,176.33 477.95,171.50 478.50,168.00 C479.05,164.50 479.72,161.17 480.30,159.00 C480.88,156.83 481.27,155.50 482.00,155.00 C482.73,154.50 483.90,155.17 484.70,156.00 C485.50,156.83 486.20,158.00 486.80,160.00 C487.40,162.00 487.80,164.67 488.30,168.00 C488.80,171.33 489.32,176.33 489.80,180.00 C490.28,183.67 490.72,187.00 491.20,190.00 C491.68,193.00 492.12,195.60 492.70,198.00 C493.28,200.40 494.10,202.40 494.70,204.40 C495.30,206.40 495.75,208.40 496.30,210.00 C496.85,211.60 497.05,212.75 498.00,214.00 C498.95,215.25 501.33,216.92 502.00,217.50" fill="none" stroke="#777" stroke-width="0.9" stroke-linejoin="round"  opacity="1"/>
<path d="M423.00,218.00 C425.83,217.98 435.50,218.00 440.00,217.90 C444.50,217.80 447.00,217.78 450.00,217.40 C453.00,217.02 455.83,216.17 458.00,215.60 C460.17,215.03 461.32,214.57 463.00,214.00 C464.68,213.43 466.68,213.12 468.10,212.20 C469.52,211.28 470.45,209.80 471.50,208.50 C472.55,207.20 473.60,206.15 474.40,204.40 C475.20,202.65 475.78,200.08 476.30,198.00 C476.82,195.92 477.17,194.23 477.50,191.90 C477.83,189.57 478.05,186.60 478.30,184.00 C478.55,181.40 478.72,179.13 479.00,176.30 C479.28,173.47 479.67,169.72 480.00,167.00 C480.33,164.28 480.58,162.28 481.00,160.00 C481.42,157.72 482.00,154.13 482.50,153.30 C483.00,152.47 483.50,155.05 484.00,155.00 C484.50,154.95 485.03,152.67 485.50,153.00 C485.97,153.33 486.45,155.17 486.80,157.00 C487.15,158.83 487.33,160.78 487.60,164.00 C487.87,167.22 488.13,172.97 488.40,176.30 C488.67,179.63 488.93,181.40 489.20,184.00 C489.47,186.60 489.73,189.23 490.00,191.90 C490.27,194.57 490.53,197.40 490.80,200.00 C491.07,202.60 491.23,205.50 491.60,207.50 C491.97,209.50 492.48,210.70 493.00,212.00 C493.52,213.30 493.87,214.32 494.70,215.30 C495.53,216.28 494.28,217.43 498.00,217.90 C501.72,218.37 513.83,218.07 517.00,218.10" fill="none" stroke="#000" stroke-width="1.3" stroke-linejoin="round"  opacity="1"/>
<path d="M460.00,217.30 C461.17,217.02 465.17,215.98 467.00,215.60 C468.83,215.22 469.77,215.31 471.00,215.00 C472.23,214.69 473.40,214.58 474.40,213.75 C475.40,212.92 476.23,211.29 477.00,210.00 C477.77,208.71 478.50,207.83 479.00,206.00 C479.50,204.17 479.73,201.35 480.00,199.00 C480.27,196.65 480.38,194.73 480.60,191.90 C480.82,189.07 481.07,185.32 481.30,182.00 C481.53,178.68 481.75,175.17 482.00,172.00 C482.25,168.83 482.47,165.67 482.80,163.00 C483.13,160.33 483.55,157.33 484.00,156.00 C484.45,154.67 485.00,154.83 485.50,155.00 C486.00,155.17 486.48,155.83 487.00,157.00 C487.52,158.17 488.10,159.83 488.60,162.00 C489.10,164.17 489.50,167.62 490.00,170.00 C490.50,172.38 491.20,173.30 491.60,176.30 C492.00,179.30 492.15,183.84 492.40,188.00 C492.65,192.16 492.78,198.08 493.10,201.25 C493.42,204.42 493.88,205.18 494.30,207.00 C494.72,208.82 494.98,210.70 495.60,212.20 C496.22,213.70 496.77,215.02 498.00,216.00 C499.23,216.98 502.17,217.75 503.00,218.10" fill="none" stroke="#000" stroke-width="1.1" stroke-linejoin="round" stroke-dasharray="1.4,1.1" opacity="1"/>
<path d="M489.00,150.00 C489.42,150.83 490.75,153.33 491.50,155.00 C492.25,156.67 492.78,158.05 493.50,160.00 C494.22,161.95 495.42,165.58 495.80,166.70" fill="none" stroke="#ddd" stroke-width="0.7" stroke-linejoin="round"  opacity="1"/>
<line x1="422.5" y1="218.1" x2="518.8" y2="218.1" stroke="#222" stroke-width="1.3" />
</svg>
</body></html>
